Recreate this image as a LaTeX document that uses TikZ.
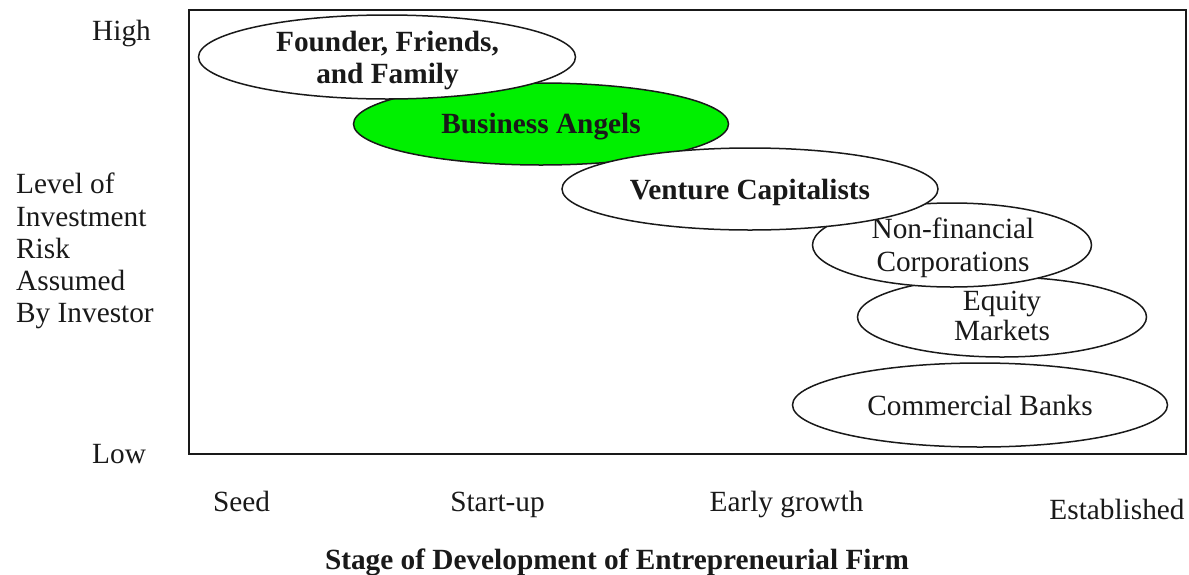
\documentclass[tikz,border=0pt]{standalone}
\usepackage{fontspec}
\setmainfont{Liberation Serif}
\usetikzlibrary{shapes.geometric}
\definecolor{angel}{RGB}{0,240,0}
\definecolor{ink}{RGB}{25,25,25}
\begin{document}
\begin{tikzpicture}[x=1pt,y=-1pt,
  oval/.style={ellipse, draw=ink, line width=1.5pt, fill=white, inner sep=0pt},
  lbl/.style={font=\fontsize{29.3}{32.2}\selectfont, text=ink, inner sep=0pt, align=center},
  blbl/.style={lbl, font=\fontsize{29.3}{31.5}\selectfont\bfseries}]
\useasboundingbox (0,0) rectangle (1189,574);
\node[draw=ink, line width=1.5pt, inner sep=0pt, anchor=north west,
      minimum width=997pt, minimum height=444pt] (frame) at (188,9) {};
% ellipses, back to front
\node[oval, fill=angel, minimum width=375pt, minimum height=82pt] (ba) at (541,124) {};
\node[blbl, anchor=base] (bat) at (541,133.3) {Business Angels};
\node[oval, minimum width=377pt, minimum height=84pt] (fff) at (387,57) {};
\node[blbl, anchor=base] (ffft) at (387.5,83.3) {Founder, Friends,\\and Family};
\node[oval, minimum width=375pt, minimum height=84pt] (cb) at (980,405) {};
\node[lbl, anchor=base] (cbt) at (980,415) {Commercial Banks};
\node[oval, minimum width=289pt, minimum height=80pt] (eq) at (1002,317) {};
\node[lbl, anchor=base, font=\fontsize{29.3}{30}\selectfont] (eqt) at (1002,340) {Equity\\Markets};
\node[oval, minimum width=279pt, minimum height=84pt] (nf) at (952,245) {};
\node[lbl, anchor=base, font=\fontsize{29.3}{33.4}\selectfont] (nft) at (953,271.7) {Non-financial\\Corporations};
\node[oval, minimum width=376pt, minimum height=82pt] (vc) at (750,189) {};
\node[blbl, anchor=base] (vct) at (750,199) {Venture Capitalists};
% axis labels
\node[lbl, anchor=base west] (high) at (92,40) {High};
\node[lbl, anchor=base west] (low) at (92,463) {Low};
\node[lbl, anchor=base west, align=left] (risk) at (16,322.7) {Level of\\Investment\\Risk\\Assumed\\By Investor};
\node[lbl, anchor=base] (seed) at (241.5,511.7) {Seed};
\node[lbl, anchor=base] (start) at (497.5,511.7) {Start-up};
\node[lbl, anchor=base] (early) at (786.5,511.7) {Early growth};
\node[lbl, anchor=base] (est) at (1117,519.3) {Established};
\node[blbl, anchor=base] (stage) at (617,569) {Stage of Development of Entrepreneurial Firm};
\end{tikzpicture}
\end{document}
